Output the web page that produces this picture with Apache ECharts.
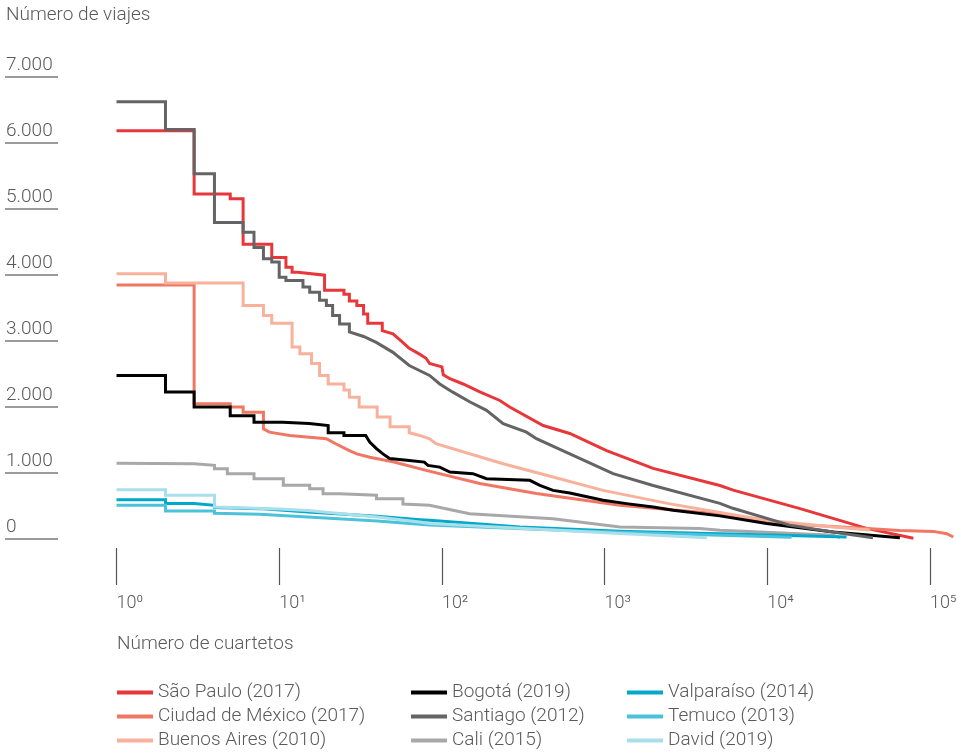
<!DOCTYPE html>
<html>
<head>
<meta charset="utf-8">
<script src="https://cdn.jsdelivr.net/npm/echarts@6/dist/echarts.min.js"></script>
<style>
html,body{margin:0;padding:0;background:#fff;}
#chart{width:956px;height:753px;}
</style>
</head>
<body>
<div id="chart"></div>
<script>
// ---- data: [rank (número de cuartetos), número de viajes] ----
const saoPaulo = [[1,6180],[3,6180],[3,5220],[5,5220],[5,5150],[6,5150],[6,4460],[9,4460],[9,4260],[11,4260],[11,4110],[12,4110],[12,4035],[13,4035],[13,4010],[19,3990],[19,3760],[25,3760],[25,3700],[27,3700],[27,3600],[30,3600],[30,3530],[33,3530],[33,3400],[35,3400],[35,3260],[43,3260],[43,3150],[50,3100],[57,2980],[63,2880],[72,2800],[80,2730],[84,2650],[100,2600],[102,2480],[112,2420],[135,2340],[171,2220],[227,2090],[261,1990],[419,1710],[611,1590],[1028,1330],[1987,1060],[5110,800],[6170,730],[15900,450],[40800,150],[79000,0]];
const ciudadMexico = [[1,3840],[3,3840],[3,2040],[5,2040],[5,1990],[6,1990],[6,1910],[8,1910],[8,1660],[8.7,1610],[11.6,1560],[19.5,1510],[22.4,1430],[27,1330],[30,1280],[36,1230],[50,1160],[80,1030],[171,830],[381,680],[1242,500],[5110,370],[12100,225],[40800,150],[65300,120],[104800,105],[126700,70],[139000,20]];
const buenosAires = [[1,4010],[2,4010],[2,3870],[6,3870],[6,3530],[8,3530],[8,3380],[9,3380],[9,3260],[12,3260],[12,2900],[13.4,2900],[13.4,2800],[15.8,2800],[15.8,2650],[17.7,2650],[17.7,2470],[20,2470],[20,2340],[25,2340],[25,2250],[27,2250],[27,2140],[31,2140],[31,1990],[40,1990],[40,1840],[48,1840],[48,1690],[63,1690],[63,1600],[73,1560],[84,1510],[92,1434],[148,1283],[238,1131],[482,929],[979,727],[2477,526],[5110,390],[9900,273],[25400,171],[42700,125]];
const bogota = [[1,2470],[2,2470],[2,2220],[3,2220],[3,1990],[5,1990],[5,1860],[7,1860],[7,1760],[10.5,1760],[10.5,1740],[15.3,1740],[15.3,1710],[20,1710],[20,1600],[25,1600],[25,1560],[34,1560],[36,1460],[39.6,1360],[43.4,1280],[47.7,1210],[63,1180],[78,1156],[82,1106],[97,1080],[112,1005],[155,980],[188,904],[347,879],[400,803],[482,727],[611,687],[979,576],[1364,526],[1987,475],[2637,424],[5110,340],[9900,223],[25400,95],[65300,10]];
const santiago = [[1,6620],[2,6620],[2,6200],[3,6200],[3,5530],[4,5530],[4,4790],[6,4790],[6,4640],[7,4640],[7,4410],[8,4410],[8,4240],[9,4240],[9,4190],[10,4190],[10,3960],[11,3960],[11,3910],[14,3910],[14,3810],[15.4,3810],[15.4,3730],[17.7,3730],[17.7,3610],[19.5,3610],[19.5,3530],[21.3,3530],[21.3,3380],[23.5,3380],[23.5,3250],[27,3250],[27,3130],[33,3060],[39.5,2970],[50,2820],[63,2620],[84,2470],[97,2340],[116,2220],[148,2070],[188,1940],[238,1740],[331,1610],[381,1510],[611,1280],[1128,980],[1987,800],[5110,530],[6140,455],[13700,200],[25200,95],[44600,10]];
const cali = [[1,1140],[3,1130],[3,1106],[4,1106],[4,1056],[4.8,1056],[4.8,980],[7,980],[7,904],[10.6,904],[10.6,803],[15.4,803],[15.4,753],[18.6,753],[18.6,677],[23.5,677],[23.5,652],[39.6,652],[39.6,601],[57.6,601],[57.6,520],[84,500],[117,424],[148,374],[482,298],[1242,171],[3850,147],[5110,121],[25400,45],[28000,10]];
const valparaiso = [[1,586],[2,586],[2,526],[3,526],[3,500],[4,500],[4,465],[7.6,450],[15,398],[40,333],[73,283],[84,273],[301,171],[1242,106],[4440,71],[30700,20]];
const temuco = [[1,500],[2,500],[2,414],[4,414],[4,380],[7.6,364],[15,323],[40,262],[73,212],[84,200],[700,110],[5110,45],[14100,15]];
const david = [[1,738],[2,738],[2,652],[4,652],[4,475],[10,445],[15,420],[40,323],[73,247],[84,223],[1242,71],[4250,10]];

const seriesNames = ['São Paulo (2017)','Ciudad de México (2017)','Buenos Aires (2010)','Bogotá (2019)','Santiago (2012)','Cali (2015)','Valparaíso (2014)','Temuco (2013)','David (2019)'];
const seriesColors = ['#e8373a','#f07763','#f8b29c','#000000','#646466','#a8a8aa','#00a8c9','#4cc2da','#a8dfea'];
const seriesData = [saoPaulo, ciudadMexico, buenosAires, bogota, santiago, cali, valparaiso, temuco, david];

const xTickValues = [1,10,100,1000,10000,100000];
const xTickLabels = ['10⁰','10¹','10²','10³','10⁴','10⁵'];
const yTickLabels = ['0','1.000','2.000','3.000','4.000','5.000','6.000','7.000'];

const FONT = 'Roboto';
const TXT = '#5a5a5a';
const FS = 19;

const chart = echarts.init(document.getElementById('chart'), null, {renderer:'canvas'});

const series = seriesData.map((d, i) => ({
  name: seriesNames[i],
  type: 'line',
  xAxisIndex: 0,
  yAxisIndex: 0,
  data: d,
  showSymbol: false,
  symbol: 'none',
  clip: false,
  lineStyle: {width: 3, color: seriesColors[i], join: 'miter'},
  itemStyle: {color: seriesColors[i]},
  emphasis: {disabled: true}
}));

function legendCfg(left, names){
  return {
    orient: 'vertical',
    left: left, top: 683,
    padding: 0,
    itemGap: 5,
    itemWidth: 36, itemHeight: 4,
    icon: 'rect',
    selectedMode: false,
    data: names,
    textStyle: {fontFamily: FONT, fontSize: FS, color: TXT, fontWeight: 300}
  };
}

const xMax = Math.pow(10, 5.15);
const decadePx = 162.7;
const gridLeft = 116.5;
const gridWidth = decadePx * 5.15;

chart.setOption({
  animation: false,
  backgroundColor: '#fff',
  textStyle: {fontFamily: FONT},
  grid: [
    {left: gridLeft, width: gridWidth, top: 76.7, bottom: 214.7, containLabel: false, outerBoundsMode: 'none'},
    {left: 5, width: 53, top: 76.7, bottom: 214.7, containLabel: false, outerBoundsMode: 'none'},
    {left: gridLeft, width: gridWidth, top: 500, bottom: 205, containLabel: false, outerBoundsMode: 'none'}
  ],
  xAxis: [
    {type: 'log', logBase: 10, min: 1, max: xMax, gridIndex: 0, show: false},
    {type: 'value', gridIndex: 1, show: false, min: 0, max: 1},
    {
      type: 'log', logBase: 10, min: 1, max: xMax, gridIndex: 2,
      position: 'bottom',
      axisLine: {show: false},
      axisTick: {show: true, length: 37, customValues: xTickValues, lineStyle: {color: '#555', width: 1.2}},
      minorTick: {show: false},
      splitLine: {show: false},
      axisLabel: {
        customValues: xTickValues,
        margin: 46, align: 'left',
        fontFamily: FONT, fontSize: 18, color: TXT, fontWeight: 300,
        formatter: v => xTickLabels[Math.round(Math.log10(v))]
      }
    }
  ],
  yAxis: [
    {type: 'value', gridIndex: 0, min: 0, max: 7000, show: false},
    {
      type: 'value', gridIndex: 1, min: 0, max: 7000, interval: 1000,
      axisLine: {show: false}, axisTick: {show: false},
      splitLine: {show: true, lineStyle: {color: '#7a7a7a', width: 1.5}},
      axisLabel: {
        inside: true, margin: 1, verticalAlign: 'bottom',
        padding: [0,0,2,0],
        fontFamily: FONT, fontSize: FS, color: TXT, fontWeight: 300,
        formatter: v => yTickLabels[Math.round(v/1000)]
      }
    },
    {type: 'value', gridIndex: 2, show: false, min: 0, max: 1}
  ],
  legend: [
    legendCfg(117, [seriesNames[0], seriesNames[1], seriesNames[2]]),
    legendCfg(411, [seriesNames[3], seriesNames[4], seriesNames[5]]),
    legendCfg(627, [seriesNames[6], seriesNames[7], seriesNames[8]])
  ],
  graphic: [
    {type: 'text', left: 6, top: 6, style: {text: 'Número de viajes', font: '300 ' + FS + 'px ' + FONT, fill: TXT}},
    {type: 'text', left: 117, top: 635, style: {text: 'Número de cuartetos', font: '300 ' + FS + 'px ' + FONT, fill: TXT}}
  ],
  series: series
});
</script>
</body>
</html>
